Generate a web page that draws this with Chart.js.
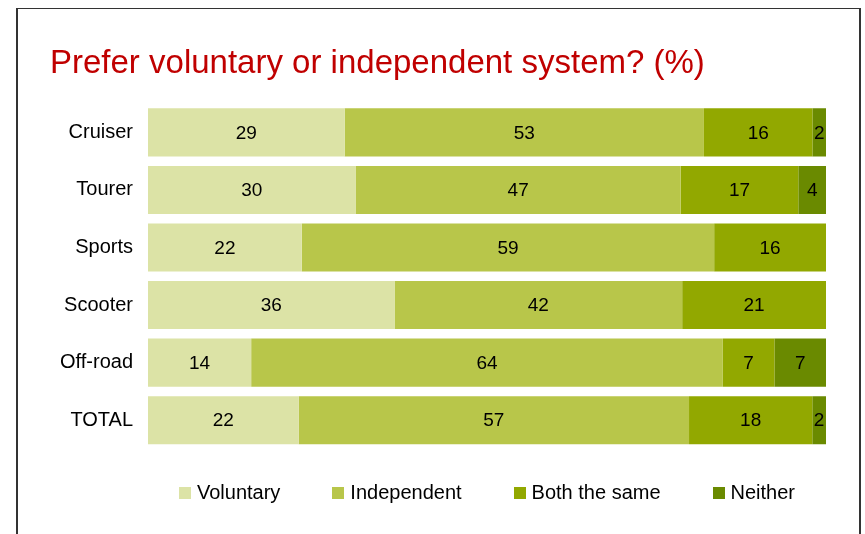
<!DOCTYPE html>
<html>
<head>
<meta charset="utf-8">
<script src="https://cdn.jsdelivr.net/npm/chart.js@4"></script>
<style>
    html, body { margin: 0; padding: 0; background: #fff; overflow: hidden; }
    .wrap { position: relative; width: 865px; height: 534px; overflow: hidden; font-family: "Liberation Sans", Arial, sans-serif; }
    .frame { position: absolute; left: 16px; top: 8px; width: 841px; height: 600px;
             border-left: 2px solid #333; border-top: 1px solid #333; border-right: 2px solid #333; }
    #chart { position: absolute; left: 0; top: 0; }
    .legend { position: absolute; left: 148px; top: 480px; width: 678px; display: flex; justify-content: center; gap: 52px; }
    .legend-item { display: flex; align-items: center; font-size: 20px; line-height: 24px; color: #000; }
    .legend-box { width: 12px; height: 12px; margin-right: 6px; margin-top: 2px; }
</style>
</head>
<body>
<div class="wrap">
    <div class="frame"></div>
    <canvas id="chart" width="865" height="534"></canvas>
    <div class="legend" id="legend"></div>
</div>

<script>
    const categories = ['Cruiser', 'Tourer', 'Sports', 'Scooter', 'Off-road', 'TOTAL'];
    const voluntary = [29, 30, 22, 36, 14, 22];
    const independent = [53, 47, 59, 42, 64, 57];
    const bothSame = [16, 17, 16, 21, 7, 18];
    const neither = [2, 4, 0, 0, 7, 2];

    const seriesNames = ['Voluntary', 'Independent', 'Both the same', 'Neither'];
    const seriesColors = ['#dce3a6', '#b8c64a', '#92a800', '#6a8a00'];
    const seriesValues = [voluntary, independent, bothSame, neither];

    // each bar is stretched to 100% of its own row total
    const rowTotals = categories.map((c, i) => seriesValues.reduce((s, arr) => s + arr[i], 0));

    const datasets = seriesValues.map((values, k) => ({
        label: seriesNames[k],
        data: values.map((v, i) => v / rowTotals[i] * 100),
        rawValues: values,
        backgroundColor: seriesColors[k],
        borderWidth: 0,
        barPercentage: 0.835,
        categoryPercentage: 1.0
    }));

    // write the original numbers in the middle of each segment
    const segmentLabels = {
        id: 'segmentLabels',
        afterDatasetsDraw(chart) {
            const ctx = chart.ctx;
            ctx.save();
            ctx.font = '19px "Liberation Sans", Arial, sans-serif';
            ctx.fillStyle = '#000';
            ctx.textAlign = 'center';
            ctx.textBaseline = 'middle';
            chart.data.datasets.forEach((ds, di) => {
                const meta = chart.getDatasetMeta(di);
                meta.data.forEach((bar, i) => {
                    const v = ds.rawValues[i];
                    if (!v) return;
                    const cx = (bar.x + bar.base) / 2;
                    ctx.fillText(String(v), cx, bar.y + 1);
                });
            });
            ctx.restore();
        }
    };

    const ctx = document.getElementById('chart').getContext('2d');
    const chart = new Chart(ctx, {
        type: 'bar',
        data: {
            labels: categories,
            datasets: datasets
        },
        options: {
            responsive: false,
            devicePixelRatio: 1,
            animation: false,
            indexAxis: 'y',
            layout: {
                padding: { left: 50, right: 39, top: 0, bottom: 85 }
            },
            scales: {
                x: {
                    stacked: true,
                    min: 0,
                    max: 100,
                    display: false
                },
                y: {
                    stacked: true,
                    grid: { display: false, drawTicks: false },
                    border: { display: false },
                    ticks: {
                        color: '#000',
                        padding: 15,
                        font: { family: '"Liberation Sans", Arial, sans-serif', size: 20 }
                    },
                    afterFit: function(scale) {
                        scale.width = 98;
                    }
                }
            },
            plugins: {
                legend: { display: false },
                tooltip: { enabled: false },
                title: {
                    display: true,
                    text: 'Prefer voluntary or independent system? (%)',
                    align: 'start',
                    color: '#c00000',
                    font: { family: '"Liberation Sans", Arial, sans-serif', size: 33, weight: 'normal', lineHeight: 1.2 },
                    padding: { top: 44, bottom: 20 }
                }
            }
        },
        plugins: [segmentLabels]
    });

    // legend built from the chart's datasets
    const legendEl = document.getElementById('legend');
    chart.data.datasets.forEach(ds => {
        const item = document.createElement('div');
        item.className = 'legend-item';
        const box = document.createElement('span');
        box.className = 'legend-box';
        box.style.background = ds.backgroundColor;
        item.appendChild(box);
        item.appendChild(document.createTextNode(ds.label));
        legendEl.appendChild(item);
    });
</script>
</body>
</html>
